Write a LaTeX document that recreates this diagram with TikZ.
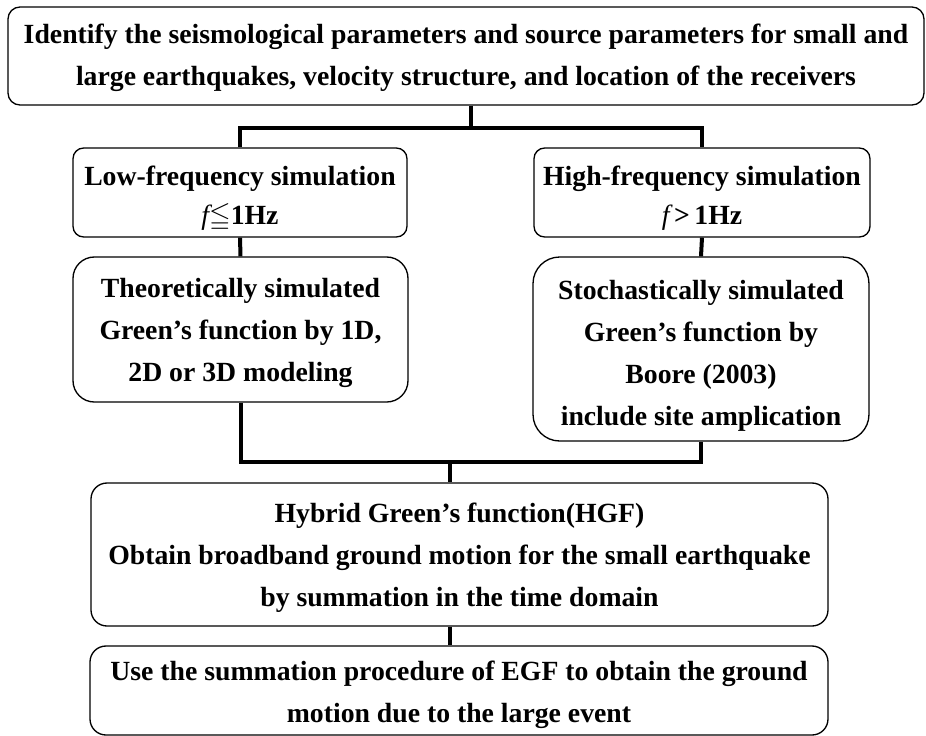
\documentclass[tikz,border=0pt]{standalone}
\usepackage{amssymb}
\usepackage{fontspec}
\setmainfont{Liberation Serif}
\begin{document}
\begin{tikzpicture}[x=0.75pt,y=-0.75pt,
  box/.style={draw, line width=1pt, inner sep=0pt},
  txt/.style={align=center, inner sep=0pt,
    font=\bfseries\fontsize{20.8}{31.5}\selectfont},
  txttight/.style={txt, font=\bfseries\fontsize{20.8}{29.5}\selectfont},
  conn/.style={line width=3pt},
  thinconn/.style={line width=2.7pt}]
\useasboundingbox (0,0) rectangle (926,736);
% input stage
\node[box, rounded corners=9pt, minimum width=687pt, minimum height=73.5pt] (top) at (466,56) {};
\node[txt] (top-t) at (466,58)
  {Identify the seismological parameters and source parameters for small and\\
   large earthquakes, velocity structure, and location of the receivers};
% frequency branches
\node[box, rounded corners=8pt, minimum width=250.5pt, minimum height=66.75pt] (low) at (240,192.5) {};
\node[txttight] (low-t) at (240,198.5)
  {Low-frequency simulation\\ {\mdseries\itshape f}$\leqq$1Hz};
\node[box, rounded corners=8pt, minimum width=252pt, minimum height=66.75pt] (high) at (702,192.5) {};
\node[txttight] (high-t) at (702,198.5)
  {High-frequency simulation\\ {\mdseries\itshape f}\,>\,1Hz};
\node[box, rounded corners=16pt, minimum width=251.25pt, minimum height=108.75pt] (theor) at (240.5,329.5) {};
\node[txt] (theor-t) at (240.5,332.5)
  {Theoretically simulated\\ Green’s function by 1D,\\ 2D or 3D modeling};
\node[box, rounded corners=20pt, minimum width=252pt, minimum height=138pt] (stoch) at (701,349) {};
\node[txt] (stoch-t) at (701,356)
  {Stochastically simulated\\ Green’s function by\\ Boore (2003)\\ include site amplication};
% merged result
\node[box, rounded corners=12pt, minimum width=552.75pt, minimum height=107.25pt] (hgf) at (459.5,554.5) {};
\node[txt] (hgf-t) at (459.5,557.5)
  {Hybrid Green’s function(HGF)\\ Obtain broadband ground motion for the small earthquake\\ by summation in the time domain};
\node[box, rounded corners=12pt, minimum width=553.5pt, minimum height=66.75pt] (last) at (459,690.5) {};
\node[txt] (last-t) at (459,695)
  {Use the summation procedure of EGF to obtain the ground\\ motion due to the large event};
% connectors
\coordinate (split) at (471,128);
\coordinate (join) at (450,462);
\draw[conn] (top.south -| split) -- (split);
\draw[conn] (low.north) |- (split) -| (high.north);
\draw[conn] (low.south) -- (theor.north);
\draw[conn] (high.south) -- (stoch.north);
\draw[conn] (theor.south) |- (join) -| (stoch.south);
\draw[thinconn] (join) -- (join |- hgf.north);
\draw[thinconn] (hgf.south -| join) -- (last.north -| join);
\end{tikzpicture}
\end{document}
